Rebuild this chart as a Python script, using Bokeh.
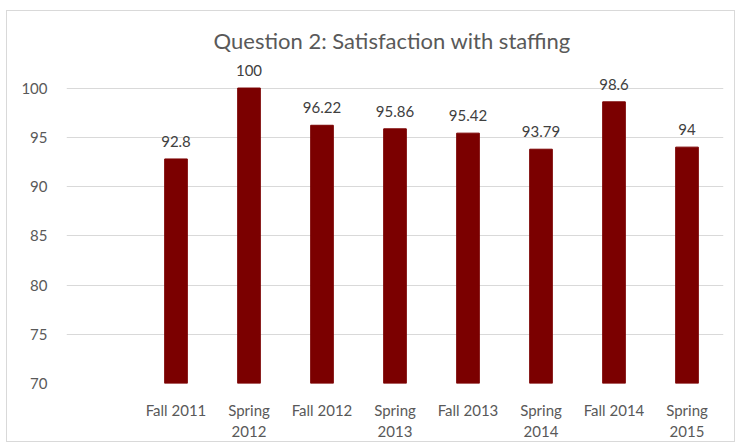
from bokeh.plotting import figure
from bokeh.models import ColumnDataSource, FixedTicker, Range1d
from bokeh.core.properties import value
from bokeh.embed import file_html
from bokeh.resources import INLINE

# ---- data ----
terms = ["Fall 2011", "Spring\n2012", "Fall 2012", "Spring\n2013",
         "Fall 2013", "Spring\n2014", "Fall 2014", "Spring\n2015"]
scores = [92.8, 100, 96.22, 95.86, 95.42, 93.79, 98.6, 94]
score_labels = ["92.8", "100", "96.22", "95.86", "95.42", "93.79", "98.6", "94"]
y_ticks = [70, 75, 80, 85, 90, 95, 100]

FONT = "Lato"
GRAY = "#595959"
BAR = "#7b0000"

# first category slot is left empty, as in the reference
xs = [i + 1 for i in range(len(terms))]
src = ColumnDataSource(dict(x=xs, top=scores, lab=score_labels))

p = figure(width=729, height=432, output_backend="svg", toolbar_location=None,
           x_range=Range1d(-0.5, len(terms) + 0.5), y_range=Range1d(70, 103),
           min_border_left=59, min_border_right=13, min_border_top=47,
           min_border_bottom=52,
           styles={"border": "1px solid #d9d9d9", "margin-left": "6px",
                   "margin-top": "10px"})

p.vbar(x="x", top="top", bottom=70, width=0.31, source=src,
       fill_color=BAR, line_color=BAR)
p.text(x="x", y="top", text="lab", source=src, text_align="center",
       text_baseline="bottom", y_offset=-12, text_font=value(FONT),
       text_font_size="15px", text_color="#404040")

p.title.text = "Question 2:  Satisfaction with staffing"
p.title.align = "center"
p.title.text_font = FONT
p.title.text_font_size = "22px"
p.title.text_font_style = "normal"
p.title.text_color = GRAY

p.yaxis.ticker = FixedTicker(ticks=y_ticks)
p.xaxis.ticker = FixedTicker(ticks=xs)
p.xaxis.major_label_overrides = {x: t for x, t in zip(xs, terms)}
for ax in (p.xaxis, p.yaxis):
    ax.axis_line_color = None
    ax.major_tick_line_color = None
    ax.minor_tick_line_color = None
    ax.major_label_text_font = FONT
    ax.major_label_text_font_size = "15px"
    ax.major_label_text_color = GRAY
p.yaxis.major_label_standoff = 13
p.xaxis.major_label_standoff = 11

p.xgrid.grid_line_color = None
p.ygrid.grid_line_color = "#d9d9d9"
p.ygrid.ticker = FixedTicker(ticks=y_ticks)
p.outline_line_color = None
p.background_fill_color = "white"
p.border_fill_color = "white"

open("out.html", "w").write(file_html(p, INLINE))
